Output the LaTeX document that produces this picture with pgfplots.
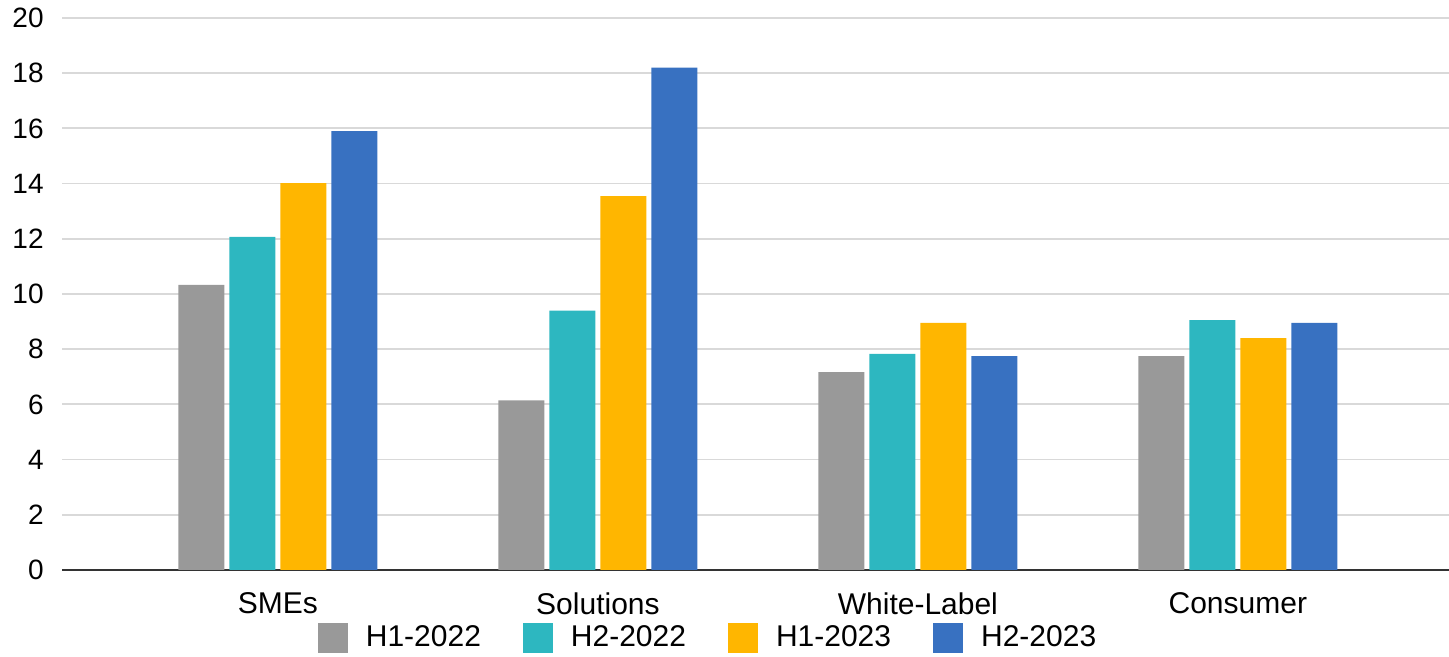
\documentclass[border=0pt]{standalone}
\usepackage{pgfplots}
\pgfplotsset{compat=1.18}
\usepackage{fontspec}
\setmainfont{Liberation Sans}
\definecolor{cgray}{HTML}{999999}
\definecolor{cteal}{HTML}{2DB7C0}
\definecolor{cyellow}{HTML}{FFB600}
\definecolor{cblue}{HTML}{3871C1}
\definecolor{cgrid}{HTML}{D9D9D9}
\definecolor{caxis}{HTML}{333333}
\pgfplotsset{sqlegend/.style={legend image code/.code={\fill[##1] (0pt,-7.5pt) rectangle (15pt,7.5pt);}}}
\begin{document}
\begin{tikzpicture}
\begin{axis}[
  at={(31pt,43.5pt)}, anchor=south west,
  scale only axis, width=693.5pt, height=276pt,
  ybar=2.5pt, bar width=23pt,
  xmin=-0.675, xmax=3.66, ymin=0, ymax=20,
  xtick={0,1,2,3}, xticklabels={SMEs,Solutions,White-Label,Consumer},
  ytick={0,2,...,20},
  axis line style={draw=none},
  major tick length=0pt,
  ymajorgrids, major grid style={cgrid, line width=0.9pt},
  extra y ticks={0}, extra y tick labels={},
  extra y tick style={major grid style={caxis, line width=1.2pt}},
  xticklabel style={font=\fontsize{15pt}{18pt}\selectfont, text=black, anchor=north, inner sep=0pt, yshift=-11pt},
  yticklabel style={font=\fontsize{14pt}{17pt}\selectfont, text=black, anchor=east, inner sep=0pt, xshift=-9pt},
  /pgf/number format/assume math mode=true,
  legend style={at={(0.4665,-0.123)}, anchor=center, draw=none, fill=none,
    legend columns=4, font=\fontsize{15pt}{18pt}\selectfont,
    /tikz/every odd column/.append style={column sep=7pt},
    /tikz/every even column/.append style={column sep=19pt}},
]
\addplot[fill=cgray, draw=none, sqlegend] coordinates {(0,10.33) (1,6.15) (2,7.17) (3,7.75)};
\addplot[fill=cteal, draw=none, sqlegend] coordinates {(0,12.07) (1,9.4) (2,7.83) (3,9.05)};
\addplot[fill=cyellow, draw=none, sqlegend] coordinates {(0,14.02) (1,13.55) (2,8.95) (3,8.4)};
\addplot[fill=cblue, draw=none, sqlegend] coordinates {(0,15.9) (1,18.2) (2,7.75) (3,8.95)};
\legend{H1-2022,H2-2022,H1-2023,H2-2023}
\end{axis}
\pgfresetboundingbox
\useasboundingbox (0,0) rectangle (724.5pt,328.5pt);
\end{tikzpicture}
\end{document}
